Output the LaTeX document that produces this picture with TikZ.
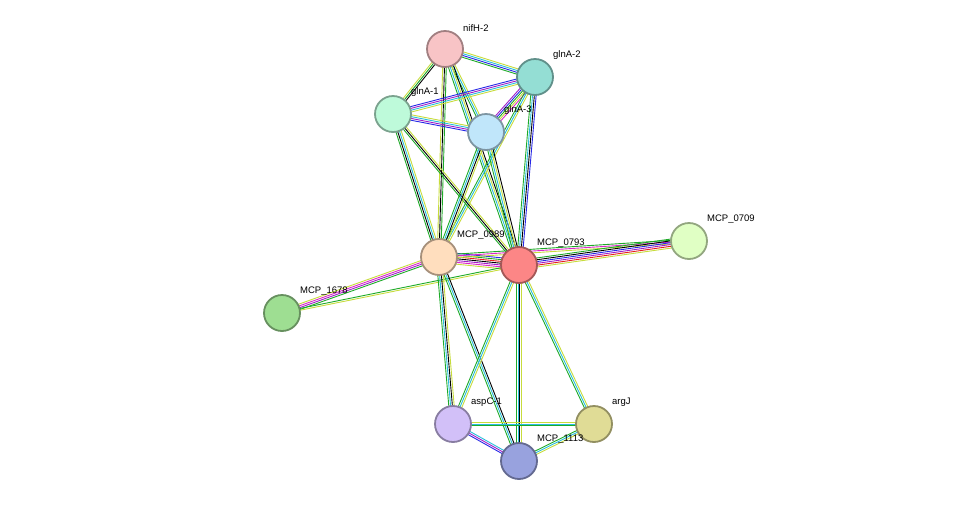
\documentclass[tikz,border=0pt]{standalone}
\usepackage{fontspec}
\setmainfont{Liberation Sans}
\usetikzlibrary{calc}
\definecolor{tm}{RGB}{199,220,60}
\definecolor{nb}{RGB}{30,170,40}
\definecolor{db}{RGB}{40,190,220}
\definecolor{co}{RGB}{40,40,230}
\definecolor{ex}{RGB}{160,30,200}
\definecolor{fu}{RGB}{230,30,30}
\definecolor{mg}{RGB}{220,40,200}
\definecolor{cnif}{RGB}{248,196,198}
\definecolor{cglnAtwo}{RGB}{148,222,212}
\definecolor{cglnAone}{RGB}{190,250,218}
\definecolor{cglnAthree}{RGB}{192,230,250}
\definecolor{czeronine}{RGB}{255,222,190}
\definecolor{cseven}{RGB}{252,134,134}
\definecolor{czeroseven}{RGB}{224,255,196}
\definecolor{csix}{RGB}{158,222,146}
\definecolor{casp}{RGB}{210,192,248}
\definecolor{carg}{RGB}{224,220,150}
\definecolor{celeven}{RGB}{152,162,222}
\tikzstyle{protein}=[circle,minimum size=36pt,line width=1.8pt,inner sep=0pt]
\tikzstyle{plabel}=[font=\fontsize{9.5}{11}\selectfont,anchor=south west,inner sep=0pt]
\newcommand{\ppiedge}[4]{% Syntax: {n}{from}{to}{colours}
  \foreach \c [count=\k] in {#4} {
    \pgfmathsetmacro{\off}{(\k-(#1+1)/2)*1.8}
    \draw[\c,line width=0.9pt] ($(#2)!\off pt!90:(#3)$) -- ($(#3)!\off pt!-90:(#2)$);
  }
}
\newcommand{\protein}[5]{% Syntax: {name}{x}{y}{fill}{label}
  \node[protein,fill=#4,draw=#4!65!black] (#1) at (#2,#3) {};
  \node[plabel] (#1-l) at ($(#1)+(18,-17)$) {#5};
}
\begin{document}
\begin{tikzpicture}[x=1pt,y=-1pt]
\useasboundingbox (0,0) rectangle (975,507);
% node positions
\coordinate (nifH2) at (445,49);
\coordinate (glnA2) at (535,77);
\coordinate (glnA1) at (393,114);
\coordinate (glnA3) at (486,132);
\coordinate (m0989) at (439,257);
\coordinate (m0793) at (519,265);
\coordinate (m0709) at (689,241);
\coordinate (m1678) at (282,313);
\coordinate (aspC1) at (453,424);
\coordinate (argJ) at (594,424);
\coordinate (m1113) at (519,461);
% edges
\ppiedge{4}{nifH2}{glnA2}{nb,co,db,tm}
\ppiedge{3}{nifH2}{glnA1}{tm,nb,black}
\ppiedge{3}{nifH2}{glnA3}{nb,db,tm}
\ppiedge{3}{nifH2}{m0989}{tm,black,nb}
\ppiedge{4}{nifH2}{m0793}{nb,db,tm,black}
\ppiedge{4}{glnA2}{glnA1}{co,ex,db,tm}
\ppiedge{5}{glnA2}{glnA3}{ex,co,nb,tm,mg}
\ppiedge{3}{glnA2}{m0989}{nb,db,tm}
\ppiedge{4}{glnA2}{m0793}{nb,db,black,co}
\ppiedge{4}{glnA1}{glnA3}{co,ex,db,tm}
\ppiedge{4}{glnA1}{m0989}{nb,black,db,tm}
\ppiedge{3}{glnA1}{m0793}{nb,black,tm}
\ppiedge{4}{glnA3}{m0989}{nb,db,black,tm}
\ppiedge{4}{glnA3}{m0793}{nb,db,tm,black}
\ppiedge{7}{m0989}{m0793}{tm,mg,ex,black,fu,nb,co}
\ppiedge{3}{m0989}{m0709}{tm,mg,nb}
\ppiedge{6}{m0793}{m0709}{tm,fu,ex,co,black,nb}
\ppiedge{4}{m0989}{m1678}{tm,mg,ex,nb}
\ppiedge{2}{m0793}{m1678}{nb,tm}
\ppiedge{4}{m0989}{aspC1}{nb,db,black,tm}
\ppiedge{3}{m0989}{m1113}{nb,db,black}
\ppiedge{3}{m0793}{aspC1}{nb,db,tm}
\ppiedge{4}{m0793}{m1113}{nb,db,black,tm}
\ppiedge{3}{m0793}{argJ}{nb,db,tm}
\ppiedge{3}{aspC1}{argJ}{nb,db,tm}
\ppiedge{3}{aspC1}{m1113}{co,ex,db}
\ppiedge{3}{argJ}{m1113}{nb,db,tm}
% proteins
\protein{nifH2n}{445}{49}{cnif}{nifH-2}
\protein{glnA2n}{535}{77}{cglnAtwo}{glnA-2}
\protein{glnA1n}{393}{114}{cglnAone}{glnA-1}
\protein{glnA3n}{486}{132}{cglnAthree}{glnA-3}
\protein{m0989n}{439}{257}{czeronine}{MCP\_0989}
\protein{m0793n}{519}{265}{cseven}{MCP\_0793}
\protein{m0709n}{689}{241}{czeroseven}{MCP\_0709}
\protein{m1678n}{282}{313}{csix}{MCP\_1678}
\protein{aspC1n}{453}{424}{casp}{aspC-1}
\protein{argJn}{594}{424}{carg}{argJ}
\protein{m1113n}{519}{461}{celeven}{MCP\_1113}
\end{tikzpicture}
\end{document}
